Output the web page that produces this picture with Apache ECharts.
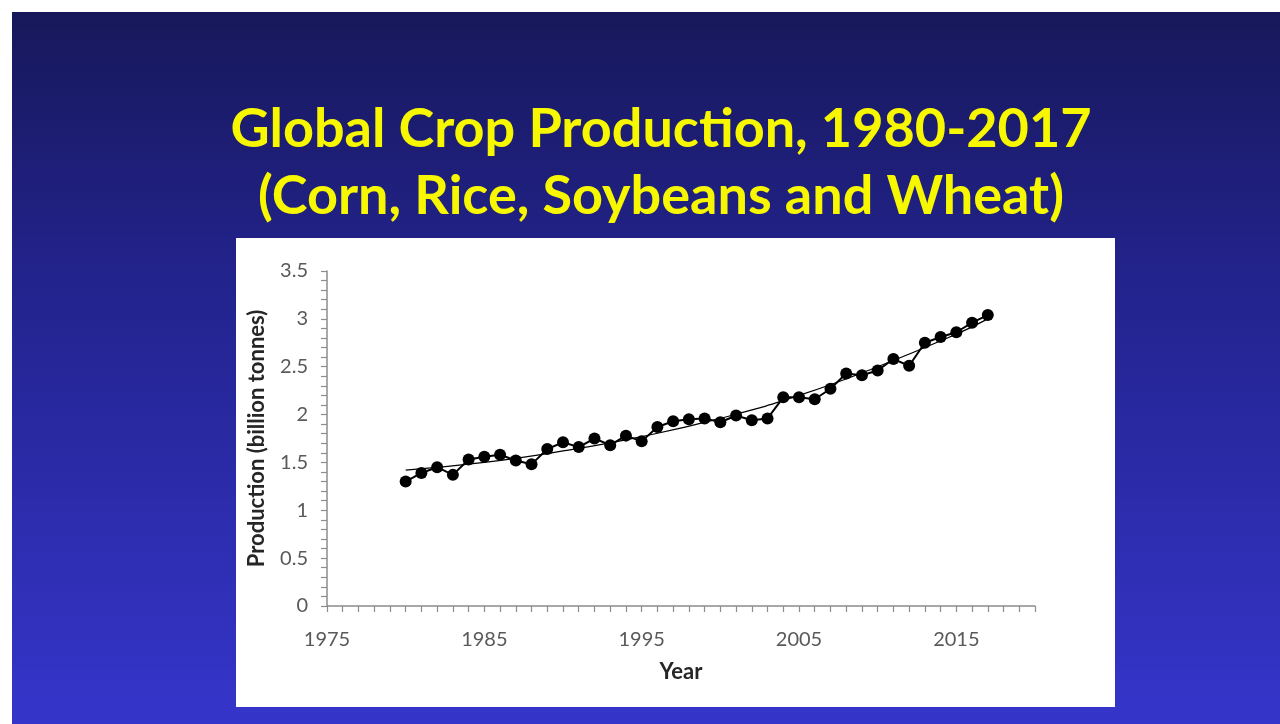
<!DOCTYPE html>
<html>
<head>
<meta charset="utf-8">
<script src="https://cdn.jsdelivr.net/npm/echarts@6/dist/echarts.min.js"></script>
<style>
html,body{margin:0;padding:0;background:#ffffff;}
#chart{width:1280px;height:724px;}
</style>
</head>
<body>
<div id="chart"></div>
<script>
var titleText = 'Global Crop Production, 1980-2017\n(Corn, Rice, Soybeans and Wheat)';
var xAxisName = 'Year';
var yAxisName = 'Production (billion tonnes)';

var years = [1980,1981,1982,1983,1984,1985,1986,1987,1988,1989,1990,1991,1992,1993,1994,1995,1996,1997,1998,1999,2000,2001,2002,2003,2004,2005,2006,2007,2008,2009,2010,2011,2012,2013,2014,2015,2016,2017];
var production = [1.30,1.39,1.45,1.37,1.53,1.56,1.58,1.52,1.48,1.64,1.71,1.66,1.75,1.68,1.78,1.72,1.87,1.93,1.95,1.96,1.92,1.99,1.94,1.96,2.18,2.18,2.16,2.27,2.43,2.41,2.46,2.58,2.51,2.75,2.81,2.86,2.96,3.04];

var trendYears = [1980,1985,1990,1995,2000,2005,2010,2015,2017];
var trendValues = [1.42,1.50,1.62,1.77,1.96,2.20,2.50,2.84,3.00];

var xMin = 1975, xMax = 2020, xLabelStep = 10;
var yMin = 0, yMax = 3.5, yStep = 0.5;

var chart = echarts.init(document.getElementById('chart'));
var axisGray = '#8c8c8c';
var labelGray = '#595959';

chart.setOption({
  animation: false,
  graphic: [
    {type:'rect', left:12, top:12, shape:{width:1268, height:712}, z:-10,
     style:{fill: new echarts.graphic.LinearGradient(0,0,0,1,[
       {offset:0, color:'#17185a'},
       {offset:0.35, color:'#22228a'},
       {offset:1, color:'#3535cb'}])}},
    {type:'rect', left:236, top:238, shape:{width:879, height:469}, z:-9,
     style:{fill:'#ffffff'}},
    {type:'text', x:661, y:96.5, z:10,
     style:{text:titleText, fill:'#f7f700', fontFamily:'Lato', fontWeight:'bold', fontSize:54,
            lineHeight:67, textAlign:'center', textVerticalAlign:'top', verticalAlign:'top'}}
  ],
  grid: {left:327, right:245, top:271, bottom:118, containLabel:false},
  xAxis: {
    type:'value', min:xMin, max:xMax, interval:5,
    name: xAxisName, nameLocation:'middle', nameGap:55,
    nameTextStyle:{color:'#262626', fontFamily:'Lato', fontWeight:'bold', fontSize:22},
    axisLine:{show:true, onZero:false, lineStyle:{color:axisGray, width:1.5}},
    axisTick:{show:true, length:6, lineStyle:{color:axisGray, width:1.2}},
    minorTick:{show:true, splitNumber:5, length:6, lineStyle:{color:axisGray, width:1.2}},
    splitLine:{show:false},
    axisLabel:{color:labelGray, fontFamily:'Lato', fontSize:20, margin:24,
      formatter:function(v){ return ((v - xMin) % xLabelStep === 0) ? String(v) : ''; }}
  },
  yAxis: {
    type:'value', min:yMin, max:yMax, interval:yStep,
    name: yAxisName, nameLocation:'middle', nameGap:59,
    nameTextStyle:{color:'#262626', fontFamily:'Lato', fontWeight:'bold', fontSize:22},
    axisLine:{show:true, lineStyle:{color:axisGray, width:1.5}},
    axisTick:{show:true, length:6, lineStyle:{color:axisGray, width:1.2}},
    minorTick:{show:true, splitNumber:5, length:6, lineStyle:{color:axisGray, width:1.2}},
    splitLine:{show:false},
    axisLabel:{color:labelGray, fontFamily:'Lato', fontSize:20, margin:19}
  },
  series: [
    {type:'line', data: trendYears.map(function(y,i){return [y, trendValues[i]];}),
     smooth:true, symbol:'none', lineStyle:{color:'#000000', width:1.2}, z:3},
    {type:'line', data: years.map(function(y,i){return [y, production[i]];}),
     symbol:'circle', symbolSize:12, showSymbol:true,
     lineStyle:{color:'#000000', width:2}, itemStyle:{color:'#000000'}, z:4}
  ]
});
</script>
</body>
</html>
